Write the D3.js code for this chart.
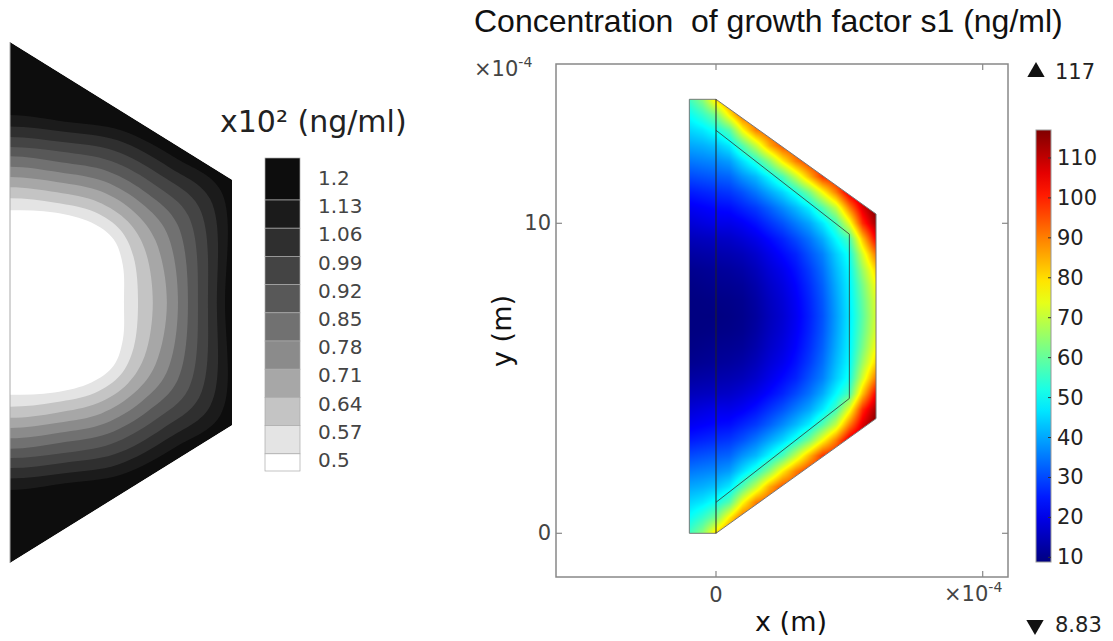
<!DOCTYPE html>
<html><head><meta charset="utf-8">
<script src="https://cdn.jsdelivr.net/npm/d3@7"></script>
<style>
html,body{margin:0;padding:0;background:#fff;}
svg{display:block;}
</style></head><body>
<svg id="chart" width="1113" height="641"></svg>
<script>
// ================= DATA =================
// Geometry (units of 1e-4 m)
const trapezoid = [[0,0],[0,14],[6,10.3],[6,3.7]];
const outerShape = [[-1,0],[-1,14],[0,14],[6,10.3],[6,3.7],[0,0]];
const innerLine = [[0,13],[5,9.65],[5,4.35],[0,1]];
const axisLine = [[0,0],[0,14]];

// Left panel: legend (x10^2 ng/ml)
const legendLabels = ["1.2","1.13","1.06","0.99","0.92","0.85","0.78","0.71","0.64","0.57","0.5"];
const legendValues = [1.2,1.13,1.06,0.99,0.92,0.85,0.78,0.71,0.64,0.57,0.5];
const bandColors = ["#0d0d0d","#1b1b1b","#2f2f2f","#444444","#585858","#717171","#8b8b8b","#a7a7a7","#c4c4c4","#e4e4e4","#ffffff"];
// contour lines (upper half, from axis to mid-plane)
const contour_120 = [[0,12.04],[1.50,11.86],[3.00,11.63],[4.50,10.87],[5.70,10.00],[5.81,7]];
const contour_113 = [[0,11.73],[1.47,11.59],[2.91,11.36],[4.31,10.63],[5.41,9.78],[5.59,7]];
const contour_106 = [[0,11.45],[1.43,11.31],[2.82,11.08],[4.12,10.39],[5.11,9.56],[5.35,7]];
const contour_099 = [[0,11.18],[1.40,11.05],[2.73,10.80],[3.93,10.15],[4.82,9.33],[5.08,7]];
const contour_092 = [[0,10.93],[1.37,10.77],[2.64,10.53],[3.74,9.91],[4.52,9.11],[4.81,7]];
const contour_085 = [[0,10.65],[1.33,10.50],[2.56,10.25],[3.56,9.66],[4.23,8.89],[4.54,7]];
const contour_078 = [[0,10.37],[1.30,10.23],[2.47,9.98],[3.37,9.42],[3.93,8.67],[4.24,7]];
const contour_071 = [[0,10.10],[1.27,9.96],[2.38,9.70],[3.18,9.18],[3.64,8.44],[3.86,7]];
const contour_064 = [[0,9.80],[1.23,9.68],[2.29,9.43],[2.99,8.94],[3.34,8.22],[3.46,7]];
const contour_057 = [[0,9.48],[1.20,9.42],[2.20,9.15],[2.80,8.70],[3.05,8.00],[3.08,7]];
const contours = [contour_120,contour_113,contour_106,contour_099,contour_092,contour_085,contour_078,contour_071,contour_064,contour_057];

// Right panel: concentration field s1 (ng/ml), upper half (mirror-symmetric about y=7)
const gridX = [-1,-0.5,0,0.5,1,1.5,2,2.5,3,3.5,4,4.5,5,5.5,6];
const gridY = [14,13.5,13,12.5,12,11.5,11,10.5,10,9.5,9,8.5,8,7.5,7];
const fieldGrid = [
 [56,64,80,92,96,97,98,99,100,101,103,106,110,113,118],
 [50,55,62,78,93,95,97,98,99,101,103,106,110,113,118],
 [45,47,51,58,76,90,95,97,98,100,102,105,110,113,118],
 [40,41,43,47,58,70,85,95,97,99,101,104,109,113,118],
 [35,36,37,39,46,53,64,78,90,98,100,103,109,113,118],
 [30,31,32,33,38,42,49,57,70,84,98,102,108,113,118],
 [25,26,27,28,31,35,40,45,52,62,76,90,107,113,118],
 [21,22,23,23.5,26,28.5,32.5,37,42,48,58,70,90,107,118],
 [18,19,20,20,21.5,24,27.5,31,35.5,40,47,56,74,99,113],
 [15,15.5,16,16.5,18,20,23,26,30,34.5,40.5,49,57,83,104],
 [12.5,13,13.5,14,15,17,20,23,26,31,36,44,51,72,91],
 [10.5,11,11.5,12,13,15,18,20.5,24,28.5,34,42,49,66,81],
 [9.5,10,10.5,10.8,11.5,13.5,16.5,19,22.5,27,32.5,40.5,48,62,76],
 [9,9.2,9.5,9.8,10.5,12.5,15.5,18,21.5,26,31.5,39.5,47.5,60,73],
 [8.9,9,9,9.4,10.2,12,15,17.5,21,25.5,31,39,47,59,72]
];
const colorMin = 8.83, colorMax = 117;
const colorbarTicks = [10,20,30,40,50,60,70,80,90,100,110];
const xTicks = [0,10];
const yTicks = [0,10];
const yTickLabels = ["0","10"];

// ================= DRAW =================
const svg = d3.select('#chart');
const defs = svg.append('defs');

// ---------- LEFT PANEL ----------
const xL = d3.scaleLinear().domain([0,6]).range([10,232]);
const yL = d3.scaleLinear().domain([0,14]).range([563,42]);
const polyL = d3.line().x(d=>xL(d[0])).y(d=>yL(d[1]));
defs.append('clipPath').attr('id','lclip').append('path').attr('d', polyL(trapezoid)+'Z');
const gL = svg.append('g').attr('clip-path','url(#lclip)');
gL.append('path').attr('d', polyL(trapezoid)+'Z').attr('fill', bandColors[0]);

function ring(p){
  const n = p.length;
  const out = [];
  for(let i=0;i<n;i++) out.push([p[i][0], p[i][1]]);
  for(let i=n-2;i>=0;i--) out.push([p[i][0], 14-p[i][1]]);
  for(let i=1;i<n;i++) out.push([-p[i][0], 14-p[i][1]]);
  for(let i=n-2;i>=1;i--) out.push([-p[i][0], p[i][1]]);
  return out;
}
const curveL = d3.line().x(d=>xL(d[0])).y(d=>yL(d[1])).curve(d3.curveCatmullRomClosed.alpha(0.5));
contours.forEach((pts,k)=>{
  gL.append('path').attr('d', curveL(ring(pts))).attr('fill', bandColors[k+1]);
});
svg.append('path').attr('d', polyL(axisLine)).attr('stroke','#aaa').attr('stroke-width',1).attr('fill','none');

// left legend
const legY = d3.scaleLinear().domain([1.2,0.5]).range([178,460]);
const legTop = 158, legBot = 471, legX = 265, legW = 35;
legendValues.forEach((v,k)=>{
  const top = k===0 ? legTop : legY(legendValues[k-1])+22;
  const bot = k===legendValues.length-1 ? legBot : legY(v)+22;
  svg.append('rect').attr('x',legX).attr('y',top).attr('width',legW).attr('height',bot-top)
    .attr('fill',bandColors[k]).attr('stroke','#aaa').attr('stroke-width',0.7);
  svg.append('text').attr('x',318).attr('y',legY(v)).attr('dominant-baseline','central')
    .attr('font-family','DejaVu Sans').attr('font-size',20).attr('fill','#444').text(legendLabels[k]);
});
svg.append('text').attr('x',220).attr('y',121).attr('dominant-baseline','central')
  .attr('font-family','DejaVu Sans').attr('font-size',30).attr('fill','#222').text('x10² (ng/ml)');

// ---------- RIGHT PANEL ----------
const xR = d3.scaleLinear().domain([0,10]).range([716,982.7]);
const yR = d3.scaleLinear().domain([0,10]).range([533.3,223.3]);
const boxX0 = 556, boxX1 = 1008, boxY0 = 64, boxY1 = 577;

const jet = v => {
  const t = Math.max(0, Math.min(1, (v-colorMin)/(colorMax-colorMin)));
  const c = a => Math.max(0, Math.min(1, a));
  return [c(1.5-Math.abs(4*t-3)), c(1.5-Math.abs(4*t-2)), c(1.5-Math.abs(4*t-1))];
};
const colIdx = d3.scaleLinear().domain([gridX[0], gridX[gridX.length-1]]).range([0, gridX.length-1]).clamp(true);
const rowIdx = d3.scaleLinear().domain([gridY[0], gridY[gridY.length-1]]).range([0, gridY.length-1]).clamp(true);
function sample(ux, uy){
  const yy = uy < 7 ? 14-uy : uy;
  const c = colIdx(ux), r = rowIdx(yy);
  const c0 = Math.min(Math.floor(c), gridX.length-2), r0 = Math.min(Math.floor(r), gridY.length-2);
  const fx = c-c0, fy = r-r0;
  const a = fieldGrid[r0][c0], b = fieldGrid[r0][c0+1], d = fieldGrid[r0+1][c0], e = fieldGrid[r0+1][c0+1];
  return (a*(1-fx)+b*fx)*(1-fy) + (d*(1-fx)+e*fx)*fy;
}
const ix0 = Math.floor(xR(-1))-1, ix1 = Math.ceil(xR(6))+1, iy0 = Math.floor(yR(14))-1, iy1 = Math.ceil(yR(0))+1;
const W = ix1-ix0, H = iy1-iy0;
const cv = document.createElement('canvas'); cv.width = W; cv.height = H;
const ctx = cv.getContext('2d');
const img = ctx.createImageData(W,H);
for(let py=0;py<H;py++){
  for(let px=0;px<W;px++){
    const ux = xR.invert(ix0+px+0.5), uy = yR.invert(iy0+py+0.5);
    const col = jet(sample(ux,uy));
    const o = (py*W+px)*4;
    img.data[o]=Math.round(col[0]*255); img.data[o+1]=Math.round(col[1]*255); img.data[o+2]=Math.round(col[2]*255); img.data[o+3]=255;
  }
}
ctx.putImageData(img,0,0);
const polyR = d3.line().x(d=>xR(d[0])).y(d=>yR(d[1]));
defs.append('clipPath').attr('id','rclip').append('path').attr('d', polyR(outerShape)+'Z');
svg.append('image').attr('href', cv.toDataURL()).attr('x',ix0).attr('y',iy0).attr('width',W).attr('height',H)
  .attr('clip-path','url(#rclip)');
svg.append('path').attr('d', polyR(outerShape)+'Z').attr('fill','none').attr('stroke','#777').attr('stroke-width',1);
svg.append('path').attr('d', polyR(axisLine)).attr('fill','none').attr('stroke','#222').attr('stroke-width',1);
svg.append('path').attr('d', polyR(innerLine)).attr('fill','none').attr('stroke','#333').attr('stroke-width',1).attr('stroke-opacity',0.8);

// axes box
svg.append('rect').attr('x',boxX0).attr('y',boxY0).attr('width',boxX1-boxX0).attr('height',boxY1-boxY0)
  .attr('fill','none').attr('stroke','#888').attr('stroke-width',1.5);
const tickLen = 6;
xTicks.forEach(t=>{
  svg.append('line').attr('x1',xR(t)).attr('x2',xR(t)).attr('y1',boxY1).attr('y2',boxY1-tickLen).attr('stroke','#888').attr('stroke-width',1.2);
  svg.append('line').attr('x1',xR(t)).attr('x2',xR(t)).attr('y1',boxY0).attr('y2',boxY0+tickLen).attr('stroke','#888').attr('stroke-width',1.2);
});
yTicks.forEach((t,i)=>{
  svg.append('line').attr('y1',yR(t)).attr('y2',yR(t)).attr('x1',boxX0).attr('x2',boxX0+tickLen).attr('stroke','#888').attr('stroke-width',1.2);
  svg.append('line').attr('y1',yR(t)).attr('y2',yR(t)).attr('x1',boxX1).attr('x2',boxX1-tickLen).attr('stroke','#888').attr('stroke-width',1.2);
  svg.append('text').attr('x',boxX0-5).attr('y',yR(t)).attr('text-anchor','end').attr('dominant-baseline','central')
    .attr('font-family','DejaVu Sans').attr('font-size',21).attr('fill','#444').text(yTickLabels[i]);
});
svg.append('text').attr('x',xR(0)).attr('y',595).attr('text-anchor','middle').attr('dominant-baseline','central')
  .attr('font-family','DejaVu Sans').attr('font-size',21).attr('fill','#444').text('0');

function multiplier(x,y){
  const t = svg.append('text').attr('x',x).attr('y',y).attr('font-family','DejaVu Sans').attr('font-size',21).attr('fill','#444');
  t.append('tspan').text('×10');
  t.append('tspan').attr('dy',-9).attr('font-size',14).text('-4');
}
multiplier(474, 76);
multiplier(944, 601);

// titles and axis labels
svg.append('text').attr('x',474).attr('y',21).attr('dominant-baseline','central').attr('xml:space','preserve')
  .style('white-space','pre')
  .attr('font-family','Liberation Sans').attr('font-size',32).attr('fill','#111').text('Concentration  of growth factor s1 (ng/ml)');
svg.append('text').attr('x',791).attr('y',621).attr('text-anchor','middle').attr('dominant-baseline','central')
  .attr('font-family','DejaVu Sans').attr('font-size',27).attr('fill','#111').text('x (m)');
svg.append('text').attr('transform','translate(501,331) rotate(-90)').attr('text-anchor','middle').attr('dominant-baseline','central')
  .attr('font-family','DejaVu Sans').attr('font-size',27).attr('fill','#111').text('y (m)');

// colorbar
const cbY = d3.scaleLinear().domain([colorMin,colorMax]).range([562,130]);
const cbX = 1036, cbW = 15;
const grad = defs.append('linearGradient').attr('id','jetgrad').attr('x1',0).attr('y1',1).attr('x2',0).attr('y2',0);
d3.range(0,1.0001,0.05).forEach(f=>{
  const c = jet(colorMin + f*(colorMax-colorMin));
  grad.append('stop').attr('offset',f).attr('stop-color',d3.rgb(c[0]*255,c[1]*255,c[2]*255).formatHex());
});
svg.append('rect').attr('x',cbX).attr('y',cbY(colorMax)).attr('width',cbW).attr('height',cbY(colorMin)-cbY(colorMax))
  .attr('fill','url(#jetgrad)').attr('stroke','#999').attr('stroke-width',1);
colorbarTicks.forEach(t=>{
  svg.append('line').attr('x1',cbX+cbW).attr('x2',cbX+cbW-3).attr('y1',cbY(t)).attr('y2',cbY(t)).attr('stroke','#333').attr('stroke-width',1);
  svg.append('text').attr('x',1057).attr('y',cbY(t)).attr('dominant-baseline','central')
    .attr('font-family','DejaVu Sans').attr('font-size',21).attr('fill','#222').text(t);
});
svg.append('path').attr('d', d3.symbol(d3.symbolTriangle, 130)()).attr('transform','translate(1036,72)').attr('fill','#111');
svg.append('text').attr('x',1055).attr('y',72).attr('dominant-baseline','central')
  .attr('font-family','DejaVu Sans').attr('font-size',21).attr('fill','#222').text(colorMax);
svg.append('path').attr('d', d3.symbol(d3.symbolTriangle, 130)()).attr('transform','translate(1035,625) rotate(180)').attr('fill','#111');
svg.append('text').attr('x',1055).attr('y',625).attr('dominant-baseline','central')
  .attr('font-family','DejaVu Sans').attr('font-size',21).attr('fill','#222').text(colorMin);
</script>
</body></html>
